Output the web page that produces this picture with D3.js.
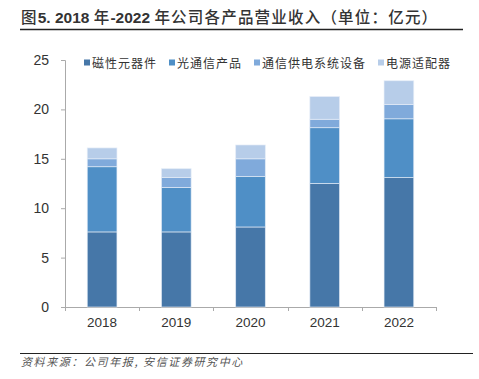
<!DOCTYPE html>
<html><head><meta charset="utf-8">
<script src="https://cdn.jsdelivr.net/npm/d3@7"></script>
<style>
html,body{margin:0;padding:0;background:#fff;}
svg{display:block;}
</style></head>
<body>
<svg id="c" width="479" height="379"></svg>
<script>
const years = ["2018","2019","2020","2021","2022"];
const seriesNames = ["磁性元器件","光通信产品","通信供电系统设备","电源适配器"];
const magnetic = [7.6, 7.6, 8.1, 12.5, 13.1];
const optical = [6.6, 4.5, 5.1, 5.65, 5.95];
const power = [0.8, 1.0, 1.8, 0.85, 1.45];
const adapter = [1.1, 0.9, 1.4, 2.3, 2.4];
const yTicks = [0,5,10,15,20,25];
const colors = ["#4677A8","#4F8FC6","#80AADB","#B7CDE9"];
const titleParts = [["图",0],["5. 2018 ",1],["年",0],["-2022 ",1],["年公司各产品营业收入（单位：亿元）",0]];

const svg = d3.select("#c");
const font = "'Liberation Sans', Arial, sans-serif";
const cjk = "'Noto Sans CJK SC', sans-serif";

// title
const tt = svg.append("text").attr("x",21).attr("y",23)
  .attr("font-family", "'Liberation Sans','Noto Sans CJK SC',sans-serif")
  .attr("font-size",15.5).attr("fill","#333");
tt.selectAll("tspan").data(titleParts).join("tspan")
  .attr("font-weight",d=>d[1]?"bold":"500")
  .attr("letter-spacing",d=>d[1]?0:1.2)
  .text(d=>d[0]);
svg.append("line").attr("x1",20).attr("x2",463).attr("y1",29.5).attr("y2",29.5)
  .attr("stroke","#222").attr("stroke-width",1.3);

const x = d3.scaleBand().domain(years).range([65,436]).paddingInner(0.6).paddingOuter(0.3);
const y = d3.scaleLinear().domain([0,25]).range([307,60]);

const data = years.map((yr,i)=>({year:yr, s0:magnetic[i], s1:optical[i], s2:power[i], s3:adapter[i]}));
const stack = d3.stack().keys(["s0","s1","s2","s3"])(data);

// axes
const yAxis = d3.axisLeft(y).tickValues(yTicks).tickSize(4).tickPadding(12);
const gy = svg.append("g").attr("transform","translate(65,0)").call(yAxis);
gy.select(".domain").attr("stroke","#aaa");
gy.selectAll(".tick line").attr("stroke","#aaa");
gy.selectAll("text").attr("font-family",font).attr("font-size",14).attr("fill","#333");

const gx = svg.append("g").attr("transform","translate(0,307)");
gx.append("line").attr("x1",62).attr("x2",437).attr("y1",0.5).attr("y2",0.5).attr("stroke","#aaa");
const bounds = years.map((d,i)=>65 + i*x.step()).concat([436]);
gx.selectAll(".tk").data(bounds).join("line")
  .attr("x1",d=>Math.round(d)+0.5).attr("x2",d=>Math.round(d)+0.5).attr("y1",0).attr("y2",4).attr("stroke","#aaa");
gx.selectAll(".lbl").data(years).join("text")
  .attr("x",d=>x(d)+x.bandwidth()/2).attr("y",20).attr("text-anchor","middle")
  .attr("font-family",font).attr("font-size",13.5).attr("fill","#333").text(d=>d);

// bars
svg.append("g").selectAll("g").data(stack).join("g").attr("fill",(d,i)=>colors[i])
  .selectAll("rect").data(d=>d).join("rect")
  .attr("x",d=>x(d.data.year)).attr("width",x.bandwidth())
  .attr("y",d=>y(d[1])).attr("height",d=>y(d[0])-y(d[1]))
  .attr("stroke","#e6eef8").attr("stroke-width",0.8).attr("stroke-opacity",0.8);

// legend
const legX = [84,169,254,378];
const lg = svg.append("g").selectAll("g").data(seriesNames).join("g")
  .attr("transform",(d,i)=>`translate(${legX[i]},63)`);
lg.append("rect").attr("x",0).attr("y",-3.5).attr("width",6).attr("height",6).attr("fill",(d,i)=>colors[i]);
lg.append("text").attr("x",8).attr("y",4.5).attr("font-family",cjk).attr("font-size",12)
  .attr("letter-spacing",1).attr("fill","#333").text(d=>d);

// source
svg.append("line").attr("x1",20).attr("x2",473).attr("y1",353.5).attr("y2",353.5).attr("stroke","#222").attr("stroke-width",1.2);
svg.append("text").attr("x",21).attr("y",366).attr("font-family",cjk).attr("font-size",11)
  .attr("font-style","italic").attr("letter-spacing",1.6).attr("fill","#555").text("资料来源：公司年报, 安信证券研究中心");
</script>
</body></html>
